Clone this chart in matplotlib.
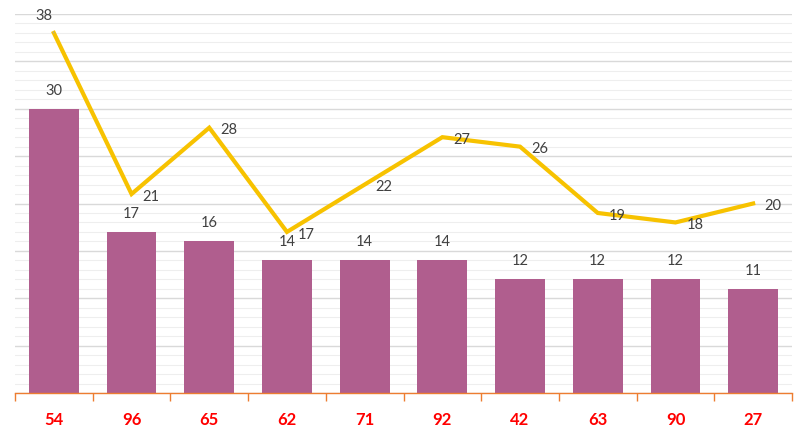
import numpy as np
import matplotlib.pyplot as plt
from matplotlib.ticker import MultipleLocator

categories = ['54', '96', '65', '62', '71', '92', '42', '63', '90', '27']
bar_values = [30, 17, 16, 14, 14, 14, 12, 12, 12, 11]
line_values = [38, 21, 28, 17, 22, 27, 26, 19, 18, 20]

plt.rcParams['font.family'] = ['Lato', 'DejaVu Sans']

fig = plt.figure(figsize=(8.07, 4.38), dpi=100)
ax = fig.add_axes([15 / 807, 1 - 393 / 438, 777 / 807, 379 / 438])

x = np.arange(len(categories))
ax.bar(x, bar_values, width=0.64, color='#b05e8e', zorder=2)
ax.plot(x, line_values, color='#f7c200', lw=3, zorder=3, solid_joinstyle='miter')

for xi, v in zip(x, bar_values):
    ax.annotate(str(v), (xi, v), xytext=(0, 8), textcoords='offset points',
                ha='center', va='bottom', fontsize=10.5, color='#404040')

for i, (xi, v) in enumerate(zip(x, line_values)):
    if i == 0:
        ax.annotate(str(v), (xi, v), xytext=(-7, 12), textcoords='offset points',
                    ha='center', va='center', fontsize=10.5, color='#404040',
                    arrowprops=dict(arrowstyle='-', color='#aaaaaa', lw=0.8,
                                    shrinkA=5, shrinkB=1))
    else:
        ax.annotate(str(v), (xi, v), xytext=(14, -2), textcoords='offset points',
                    ha='center', va='center', fontsize=10.5, color='#404040')

ax.set_xlim(-0.5, len(categories) - 0.5)
ax.set_ylim(0, 40)
ax.yaxis.set_major_locator(MultipleLocator(5))
ax.yaxis.set_minor_locator(MultipleLocator(1))
ax.grid(which='major', axis='y', color='#d9d9d9', lw=1, zorder=0)
ax.grid(which='minor', axis='y', color='#eeeeee', lw=0.8, zorder=0)
ax.set_axisbelow(True)

ax.set_xticks(x)
ax.set_xticklabels(categories, fontsize=12, fontweight='bold', color='#ff0000')
ax.set_xticks(np.arange(len(categories) + 1) - 0.5, minor=True)
ax.tick_params(axis='x', which='major', length=0, pad=14)
ax.tick_params(axis='x', which='minor', length=6, color='#ed7d31', width=1)
ax.tick_params(axis='y', which='both', length=0, labelleft=False)

for s in ['top', 'right', 'left']:
    ax.spines[s].set_visible(False)
ax.spines['bottom'].set_color('#ed7d31')
ax.spines['bottom'].set_linewidth(1)

plt.savefig('out.png', dpi=100)
